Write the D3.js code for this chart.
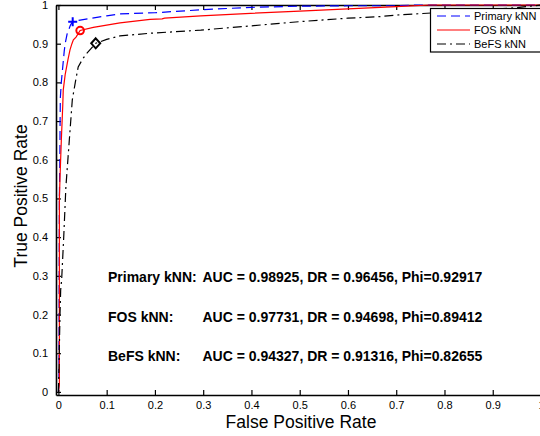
<!DOCTYPE html>
<html><head><meta charset="utf-8">
<script src="https://cdn.jsdelivr.net/npm/d3@7"></script>
<style>
html,body{margin:0;padding:0;background:#fff;}
svg{display:block;font-family:"Liberation Sans",Arial,Helvetica,sans-serif;}
</style></head>
<body>
<svg id="chart" width="540" height="436"></svg>
<script>
// ---- data ----
const seriesNames = ["Primary kNN", "FOS kNN", "BeFS kNN"];
const primaryFPR = [0,0.001,0.002,0.003,0.0035,0.004,0.006,0.009,0.012,0.014,0.018,0.021,0.025,0.0296,0.045,0.0655,0.1,0.1276,0.2,0.3,0.4,0.5,0.6,0.7,0.75,1];
const primaryTPR = [0,0.02,0.5,0.6,0.7,0.76,0.80,0.84,0.88,0.90,0.925,0.935,0.948,0.957,0.961,0.965,0.972,0.977,0.980,0.988,0.994,0.997,0.998,0.998,1,1];
const fosFPR = [0,0.002,0.002,0.0035,0.006,0.009,0.01,0.014,0.02,0.024,0.028,0.031,0.0365,0.045,0.0723,0.1276,0.19,0.215,0.22,0.295,0.398,0.5,0.6,0.667,0.7,0.77,1];
const fosTPR = [0,0.02,0.5,0.56,0.65,0.74,0.78,0.82,0.86,0.884,0.90,0.91,0.917,0.934,0.942,0.954,0.963,0.964,0.966,0.972,0.9785,0.984,0.990,0.994,0.9957,1,1];
const befsFPR = [0,0.001,0.002,0.0033,0.0047,0.0067,0.011,0.0155,0.0226,0.0288,0.035,0.041,0.05,0.0586,0.068,0.0773,0.1,0.1276,0.19,0.295,0.398,0.5,0.6,0.667,0.7,0.755,0.85,0.95,1];
const befsTPR = [0,0.05,0.12,0.2,0.264,0.29,0.4,0.53,0.651,0.755,0.80,0.84,0.86,0.875,0.888,0.901,0.911,0.92,0.927,0.935,0.946,0.957,0.966,0.97,0.974,0.978,0.985,0.993,1];
const markerFPR = [0.0296, 0.045, 0.0773];
const markerTPR = [0.957, 0.934, 0.901];
const xTicks = [0,0.1,0.2,0.3,0.4,0.5,0.6,0.7,0.8,0.9,1];
const yTicks = [0,0.1,0.2,0.3,0.4,0.5,0.6,0.7,0.8,0.9,1];
const statLabels = ["Primary kNN:", "FOS kNN:", "BeFS kNN:"];
const statValues = ["AUC = 0.98925, DR = 0.96456, Phi=0.92917",
                    "AUC = 0.97731, DR = 0.94698, Phi=0.89412",
                    "AUC = 0.94327, DR = 0.91316, Phi=0.82655"];

// ---- styles ----
const colors = ["#0000ff", "#ff0000", "#000000"];
const dashes = ["9,5", null, "9,4,2,4"];

const svg = d3.select("#chart");
const x = d3.scaleLinear().domain([-0.005, 1]).range([56, 541]);
const y = d3.scaleLinear().domain([-0.008, 1]).range([395, 5]);

const series = [
  d3.zip(primaryFPR, primaryTPR),
  d3.zip(fosFPR, fosTPR),
  d3.zip(befsFPR, befsTPR)
];

// axes box
const g = svg.append("g");
const xAxisB = d3.axisBottom(x).tickValues(xTicks).tickSizeInner(-5).tickSizeOuter(0).tickPadding(6)
  .tickFormat(d => d3.format("")(d));
const gx = g.append("g").attr("transform", `translate(0,${y.range()[0]})`).call(xAxisB);
const xAxisT = d3.axisTop(x).tickValues(xTicks).tickSizeInner(-5).tickSizeOuter(0).tickFormat("");
const gxt = g.append("g").attr("transform", `translate(0,${y.range()[1]})`).call(xAxisT);
const yAxisL = d3.axisLeft(y).tickValues(yTicks).tickSizeInner(-5).tickSizeOuter(0).tickPadding(8)
  .tickFormat(d => d3.format("")(d));
const gy = g.append("g").attr("transform", `translate(${x.range()[0]},0)`).call(yAxisL);
[gx, gxt, gy].forEach(a => {
  a.select(".domain").attr("stroke", "#000").attr("stroke-width", 1.6);
  a.selectAll(".tick line").attr("stroke", "#000").attr("stroke-width", 1.2);
  a.selectAll(".tick text").attr("font-size", 11).attr("fill", "#000")
    .attr("font-family", "'Liberation Sans',Arial,sans-serif");
});
gx.selectAll(".tick text").attr("dy", "0.71em");

// curves
const line = d3.line().x(d => x(d[0])).y(d => y(d[1]));
series.forEach((s, i) => {
  svg.append("path").datum(s)
    .attr("d", line)
    .attr("fill", "none")
    .attr("stroke", colors[i])
    .attr("stroke-width", 1.2)
    .attr("stroke-dasharray", dashes[i]);
});

// markers
const mk = svg.append("g");
{
  const cx = x(markerFPR[0]), cy = y(markerTPR[0]);
  mk.append("path").attr("d", `M${cx-4.5},${cy}H${cx+4.5}M${cx},${cy-4.5}V${cy+4.5}`)
    .attr("stroke", colors[0]).attr("stroke-width", 2).attr("fill", "none");
}
mk.append("circle").attr("cx", x(markerFPR[1])).attr("cy", y(markerTPR[1])).attr("r", 3.8)
  .attr("stroke", colors[1]).attr("stroke-width", 2).attr("fill", "none");
{
  const cx = x(markerFPR[2]), cy = y(markerTPR[2]);
  mk.append("path").attr("d", `M${cx},${cy-5}L${cx+4.5},${cy}L${cx},${cy+5}L${cx-4.5},${cy}Z`)
    .attr("stroke", colors[2]).attr("stroke-width", 2).attr("fill", "none");
}

// statistics text
statLabels.forEach((t, i) => {
  const by = [282, 321.5, 361][i];
  svg.append("text").attr("x", 108).attr("y", by).attr("font-size", 14).attr("font-weight", "bold")
    .attr("fill", "#000").text(t);
  svg.append("text").attr("x", 202.5).attr("y", by).attr("font-size", 14).attr("font-weight", "bold")
    .attr("fill", "#000").text(statValues[i]);
});

// legend
const lg = svg.append("g");
lg.append("rect").attr("x", 430.5).attr("y", 8.5).attr("width", 120).attr("height", 43.5)
  .attr("fill", "#fff").attr("stroke", "#000").attr("stroke-width", 1.2);
seriesNames.forEach((n, i) => {
  const ly = 16 + i * 14;
  lg.append("line").attr("x1", 437).attr("x2", 470).attr("y1", ly).attr("y2", ly)
    .attr("stroke", colors[i]).attr("stroke-width", 1.2).attr("stroke-dasharray", dashes[i]);
  lg.append("text").attr("x", 474).attr("y", ly).attr("dy", "0.36em").attr("font-size", 11)
    .attr("fill", "#000").text(n);
});

// axis titles
svg.append("text").attr("x", 301).attr("y", 428).attr("text-anchor", "middle")
  .attr("font-size", 17.5).attr("fill", "#000").text("False Positive Rate");
svg.append("text").attr("transform", "translate(27,196) rotate(-90)").attr("text-anchor", "middle")
  .attr("font-size", 17.5).attr("fill", "#000").text("True Positive Rate");
</script>
</body></html>
